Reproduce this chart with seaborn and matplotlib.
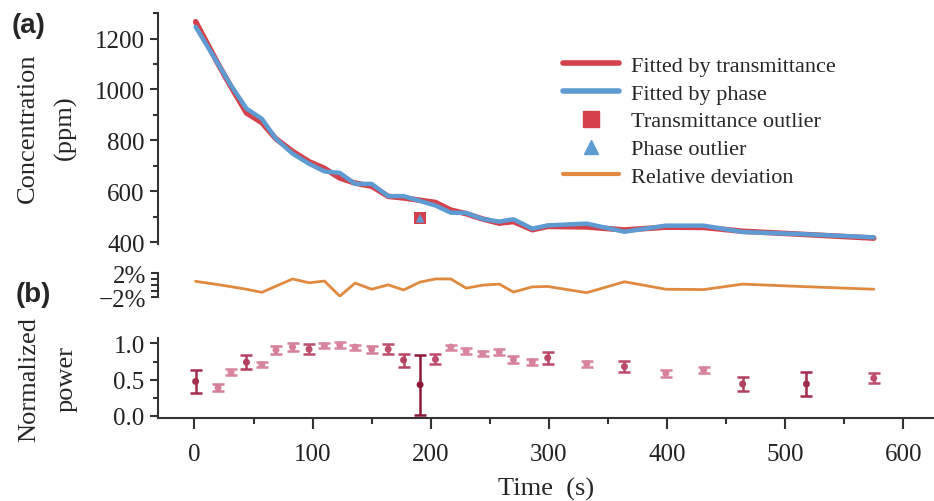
import numpy as np
import pandas as pd
import seaborn as sns
import matplotlib
from matplotlib import pyplot as plt
from matplotlib.colors import LinearSegmentedColormap, LogNorm
from matplotlib.lines import Line2D
from matplotlib.ticker import MultipleLocator, FixedLocator

# sampling times (s)
time = [1, 20, 31, 44, 57, 69, 83, 97, 110, 123, 136, 150, 164, 177, 191,
        204, 217, 230, 244, 258, 270, 286, 299, 332, 364, 399, 431, 464, 518, 575]

# concentration curves (the point at 191 s is the outlier, not on the curves)
conc_time = [1, 20, 31, 44, 57, 69, 83, 97, 110, 123, 136, 150, 164, 177,
             204, 217, 230, 244, 258, 270, 286, 299, 332, 364, 399, 431, 464, 518, 575]
conc_trans = [1266, 1100, 1010, 908, 870, 806, 757, 716, 690, 652, 632, 620, 580, 574,
              556, 526, 512, 491, 475, 481, 449, 462, 460, 448, 459, 458, 443, 430, 416]
conc_phase = [1246, 1100, 1015, 925, 885, 806, 748, 708, 678, 672, 629, 629, 581, 581,
              544, 516, 515, 491, 481, 490, 453, 466, 473, 441, 465, 465, 440, 431, 419]

outlier_time = [191]
outlier_trans = [494]
outlier_phase = [494]

# relative deviation (%)
rel_dev = [0.63, 0.09, -0.26, -0.68, -1.2, -0.17, 1.03, 0.39, 0.68, -1.83, 0.34, -0.68,
           0.05, -0.8, 0.51, 1.03, 1.03, -0.5, 0.0, 0.17, -1.15, -0.29, -0.22, -1.25,
           0.56, -0.68, -0.74, 0.17, -0.26, -0.68]

# normalized power and its error
power = [0.475, 0.39, 0.60, 0.74, 0.71, 0.91, 0.95, 0.92, 0.97, 0.98, 0.95, 0.92,
         0.92, 0.77, 0.43, 0.78, 0.95, 0.895, 0.86, 0.88, 0.775, 0.745, 0.80, 0.72,
         0.68, 0.585, 0.635, 0.44, 0.44, 0.52]
power_err = [0.155, 0.05, 0.04, 0.10, 0.04, 0.05, 0.05, 0.07, 0.03, 0.04, 0.035, 0.05,
             0.07, 0.09, 0.415, 0.07, 0.035, 0.035, 0.035, 0.04, 0.05, 0.045, 0.08, 0.04,
             0.075, 0.045, 0.045, 0.10, 0.16, 0.07]

red = '#d4414a'
blue = '#5f9bd3'
orange = '#e08a40'
dark = '#333333'

sns.set_theme(style='ticks')
plt.rcParams['font.family'] = ['Liberation Serif', 'DejaVu Serif']
plt.rcParams['axes.edgecolor'] = dark
plt.rcParams['axes.linewidth'] = 1.5
plt.rcParams['xtick.color'] = dark
plt.rcParams['ytick.color'] = dark
plt.rcParams['xtick.labelcolor'] = '#222222'
plt.rcParams['ytick.labelcolor'] = '#222222'

fig = plt.figure(figsize=(9.34, 5.02), dpi=100)
ax1 = fig.add_axes([0.169, 0.512, 0.831, 0.46])
ax2 = fig.add_axes([0.169, 0.406, 0.831, 0.048])
ax3 = fig.add_axes([0.169, 0.165, 0.831, 0.159])

xlim = (-31, 626)
for ax in (ax1, ax2, ax3):
    ax.set_xlim(*xlim)
    ax.set_facecolor('none')
    ax.tick_params(which='major', direction='out', length=6, width=1.5, labelsize=18)
    ax.tick_params(which='minor', direction='out', length=3.5, width=1.5)
    sns.despine(ax=ax)

# (a) concentration
sns.lineplot(x=conc_time, y=conc_trans, color=red, lw=4, ax=ax1)
sns.lineplot(x=conc_time, y=conc_phase, color=blue, lw=3.2, ax=ax1)
sns.scatterplot(x=outlier_time, y=outlier_trans, color=red, marker='s', s=80,
                edgecolor='none', ax=ax1, zorder=4)
sns.scatterplot(x=outlier_time, y=outlier_phase, color=blue, marker='^', s=40,
                edgecolor='none', ax=ax1, zorder=5)
ax1.set_ylim(393, 1300)
ax1.yaxis.set_major_locator(MultipleLocator(200))
ax1.yaxis.set_minor_locator(MultipleLocator(100))
ax1.spines['bottom'].set_visible(False)
ax1.set_xticks([])
ax1.set_ylabel('Concentration\n(ppm)', fontsize=19, linespacing=1.85)
ax1.yaxis.set_label_coords(-0.104, 0.506)

handles = [
    Line2D([], [], color=red, lw=4),
    Line2D([], [], color=blue, lw=4),
    Line2D([], [], color=red, marker='s', ls='none', markersize=11),
    Line2D([], [], color=blue, marker='^', ls='none', markersize=10),
    Line2D([], [], color=orange, lw=3),
]
labels = ['Fitted by transmittance', 'Fitted by phase', 'Transmittance outlier',
          'Phase outlier', 'Relative deviation']
ax1.legend(handles, labels, loc='upper left', bbox_to_anchor=(0.522, 0.818),
           frameon=False, fontsize=16, handlelength=2.5, handletextpad=0.55,
           labelspacing=0.33, borderpad=0, borderaxespad=0)

# relative deviation strip
sns.lineplot(x=time, y=rel_dev, color=orange, lw=2, ax=ax2)
ax2.set_ylim(-2, 2)
ax2.yaxis.set_major_locator(FixedLocator([-2, 2]))
ax2.yaxis.set_minor_locator(FixedLocator([-1, 0, 1]))
ax2.set_yticklabels(['\u22122%', '2%'])
ax2.spines['bottom'].set_visible(False)
ax2.set_xticks([])
ax2.tick_params(axis='y', which='major', length=5)
ax2.tick_params(axis='y', which='minor', length=5)

# (b) normalized power
cmap = LinearSegmentedColormap.from_list(
    'pw', [(0, '#d9849d'), (0.12, '#d47d97'), (0.24, '#be4b6b'),
           (0.4, '#b23e5e'), (0.6, '#a02b4b'), (1.0, '#8a1a38')])
norm = LogNorm(0.04, 0.42)
colors = [cmap(norm(e)) for e in power_err]
for t, p, e, c in zip(time, power, power_err, colors):
    ax3.errorbar(t, p, yerr=e, fmt='none', ecolor=c, elinewidth=1.8,
                 capsize=4.5, capthick=1.8)
sns.scatterplot(x=time, y=power, hue=power_err, palette=cmap, hue_norm=norm,
                s=25, edgecolor='none', legend=False, ax=ax3, zorder=3)
ax3.set_ylim(-0.032, 1.07)
ax3.yaxis.set_major_locator(MultipleLocator(0.5))
ax3.yaxis.set_minor_locator(MultipleLocator(0.25))
ax3.yaxis.set_major_formatter(matplotlib.ticker.FormatStrFormatter('%.1f'))
ax3.xaxis.set_major_locator(MultipleLocator(100))
ax3.xaxis.set_minor_locator(MultipleLocator(50))
ax3.tick_params(axis='x', which='major', length=8, pad=10)
ax3.tick_params(axis='x', which='minor', length=4)
ax3.set_ylabel('Normalized\npower', fontsize=19, linespacing=1.85)
ax3.yaxis.set_label_coords(-0.104, 0.5)
ax3.set_xlabel('Time  (s)', fontsize=19)
ax3.xaxis.set_label_coords(0.5, -0.74)

fig.text(0.012, 0.975, '(a)', fontsize=20, fontweight='bold',
         family=['Liberation Sans', 'DejaVu Sans'], va='top', ha='left')
fig.text(0.017, 0.438, '(b)', fontsize=20, fontweight='bold',
         family=['Liberation Sans', 'DejaVu Sans'], va='top', ha='left')

fig.savefig('out.png', dpi=100)
